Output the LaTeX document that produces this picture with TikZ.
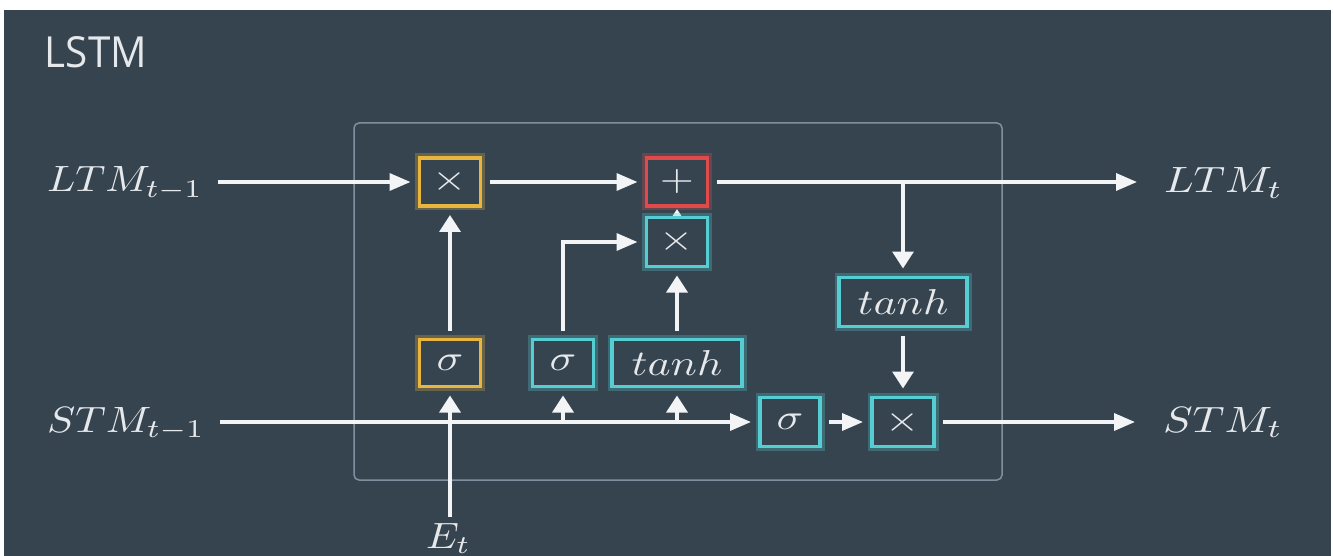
\documentclass[tikz,border=0pt]{standalone}
\usepackage{fontspec}
\newfontfamily\titlefont{Open Sans}
\usepackage{graphicx}
\usetikzlibrary{arrows.meta,calc}
\pgfdeclarelayer{bg}
\pgfsetlayers{bg,main}
\definecolor{bgc}{HTML}{364450}
\definecolor{framec}{HTML}{7E90A0}
\definecolor{arrc}{HTML}{F2F4F5}
\definecolor{txtc}{HTML}{E6E9EC}
\definecolor{yel}{HTML}{E8B53E}
\definecolor{cya}{HTML}{55CDD3}
\definecolor{rd}{HTML}{E14A4B}
\newcommand{\bx}[1]{\scalebox{4.39}[3.6]{$#1$}}
\tikzset{
  x=1pt, y=-1pt,
  box/.style={draw=#1, line width=3.2pt, fill=bgc, text=txtc,
    minimum width=61pt, minimum height=48pt, inner sep=0pt, outer sep=9pt,
    preaction={draw=#1, line width=9pt, draw opacity=.28}},
  lbl/.style={inner sep=0pt, outer sep=0pt, text=txtc},
  harr/.style={draw=arrc, line width=3.5pt, -{Triangle[length=21pt,width=17pt]}},
  varr/.style={draw=arrc, line width=3.5pt, -{Triangle[length=17pt,width=21pt]}},
  framebox/.style={draw=framec, line width=1.5pt, rounded corners=5pt}
}
\begin{document}
\begin{tikzpicture}
\useasboundingbox (0,0) rectangle (1333,556);
\begin{pgfonlayer}{bg}
  \fill[white] (0,0) rectangle (1333,556);
  \fill[bgc] (4,10) rectangle (1331,556);
  \draw[framebox] (354,123) rectangle (1002,480);
\end{pgfonlayer}

% title
\node[lbl, anchor=base west] (title) at (45,68) {\resizebox{102pt}{31pt}{\titlefont LSTM}};

% labels
\node[lbl, anchor=base west] (ltmin) at (47,192) {\resizebox{156pt}{25pt}{$LTM_{t-1}$}};
\node[lbl, anchor=base west] (stmin) at (47,432) {\resizebox{158pt}{25pt}{$STM_{t-1}$}};
\node[lbl, anchor=base west] (ltmout) at (1164,193) {\resizebox{119pt}{25pt}{$LTM_{t}$}};
\node[lbl, anchor=base west] (stmout) at (1163,432) {\resizebox{120pt}{25pt}{$STM_{t}$}};
\node[lbl, anchor=base west] (et) at (426,548) {\resizebox{45pt}{25pt}{$E_{t}$}};

% boxes
\node[box=yel] (mulL) at (450,182) {\bx{\times}};
\node[box=rd] (add) at (677,182) {\bx{+}};
\node[box=cya, minimum height=49pt] (mulI) at (677,242) {\bx{\times}};
\node[box=yel, minimum height=47pt] (sigF) at (450,363) {\bx{\sigma}};
\node[box=cya, minimum height=47pt] (sigI) at (563,363) {\bx{\sigma}};
\node[box=cya, minimum width=130pt, minimum height=47pt] (tanhC) at (677,363) {\bx{tanh}};
\node[box=cya, minimum width=60pt, minimum height=49pt] (sigO) at (790,422) {\bx{\sigma}};
\node[box=cya, minimum width=62pt, minimum height=49pt] (mulO) at (903,422) {\bx{\times}};
\node[box=cya, minimum width=128pt, minimum height=49pt] (tanhO) at (903,302) {\bx{tanh}};

% connectors
\begin{pgfonlayer}{bg}
  \draw[varr, shorten >=-6pt] (mulI.center) -- (add.south);
\end{pgfonlayer}
\draw[harr, shorten <=15pt] (ltmin.east |- mulL.west) -- (mulL.west);
\draw[harr] (mulL.east) -- (add.west);
\draw[harr, shorten >=27pt] (add.east) -- (add.east -| ltmout.west);
\draw[varr] (tanhO.north |- add.east) -- (tanhO.north);
\draw[varr] (tanhO.south) -- (mulO.north);
\draw[harr, shorten <=15pt] (stmin.east |- sigO.west) -- (sigO.west);
\draw[varr] (sigI.south |- sigO.west) -- (sigI.south);
\draw[varr] (tanhC.south |- sigO.west) -- (tanhC.south);
\draw[varr, shorten <=6pt] (sigF.south |- et.north) -- (sigF.south);
\draw[varr] (sigF.north) -- (mulL.south);
\draw[harr] (sigI.north) |- (mulI.west);
\draw[varr] (tanhC.north) -- (mulI.south);
\draw[harr] (sigO.east) -- (mulO.west);
\draw[harr, shorten >=28pt] (mulO.east) -- (mulO.east -| stmout.west);
\end{tikzpicture}
\end{document}
